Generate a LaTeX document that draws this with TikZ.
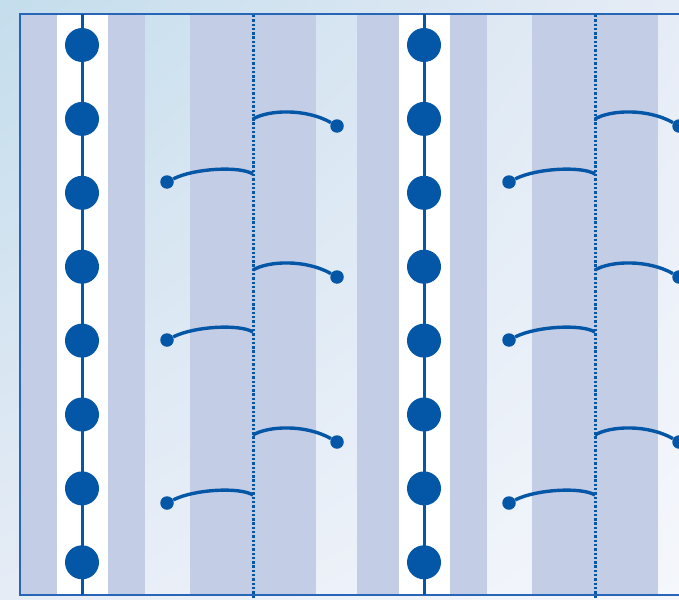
\documentclass[tikz,border=0pt]{standalone}
\usepackage{xcolor}
\usepackage{tikz}
\usetikzlibrary{positioning,shadings}
\definecolor{ink}{HTML}{0457A7}
\definecolor{rim}{HTML}{2766B6}
\definecolor{lav}{HTML}{C4CDE6}
\definecolor{sky}{HTML}{C4DDEC}
\definecolor{mist}{HTML}{E6ECF6}
\definecolor{cloud}{HTML}{F5F7FC}
\tikzset{
  bead/.style={circle,fill=ink,minimum size=34pt,inner sep=0pt},
  knot/.style={circle,fill=ink,minimum size=13.5pt,inner sep=0pt},
  rail/.style={draw=ink,line width=3pt},
  hook/.style={draw=ink,line width=3.4pt},
  seam/.style={draw=ink,line width=3pt,dash pattern=on 2.4pt off 1.9pt},
  band/.style={fill=lav},
  gap/.style={fill=white},
  rimline/.style={draw=rim,line width=2pt}}

\begin{document}
\begin{tikzpicture}[x=1pt,y=-1pt]
  \useasboundingbox (0,0) rectangle (679,599);
  \shade[upper left=sky,upper right=mist,lower left=mist,lower right=cloud] (0,0) rectangle (679,599);
  \begin{scope}
    \clip (20,14) rectangle (720,595);
    \foreach \o in {0,342} {
      \fill[band] (15+\o,0) rectangle (57+\o,599);
      \fill[gap] (57+\o,0) rectangle (108+\o,599);
      \fill[band] (108+\o,0) rectangle (145+\o,599);
      \fill[band] (190+\o,0) rectangle (316+\o,599);
    }
  \end{scope}
  \draw[rimline] (20,14) rectangle (720,595);
  \foreach \o [count=\g] in {0,342} {
    \coordinate (rtop\g) at (82+\o,14);
    \coordinate (rbot\g) at (82+\o,595);
    \draw[rail] (rtop\g) -- (rbot\g);
    \foreach \k in {0,...,7}
      \node[bead] (b\g-\k) at (82+\o,45+73.9*\k) {};
    \coordinate (stop\g) at (253+\o,15);
    \coordinate (sbot\g) at (253+\o,599);
    \draw[seam] (stop\g) -- (sbot\g);
    \foreach \y in {174,332,495} {
      \node[knot] (kl\g-\y) at (167+\o,\y+8) {};
      \coordinate (sl\g-\y) at (253+\o,\y);
      \draw[hook] (kl\g-\y) .. controls +(28,-14) and +(-13,-8) .. (sl\g-\y);
    }
    \foreach \y in {119,270,435} {
      \coordinate (sr\g-\y) at (253+\o,\y);
      \node[knot] (kr\g-\y) at (337+\o,\y+7) {};
      \draw[hook] (sr\g-\y) .. controls +(15,-9) and +(-32,-18) .. (kr\g-\y);
    }
  }
\end{tikzpicture}
\end{document}
